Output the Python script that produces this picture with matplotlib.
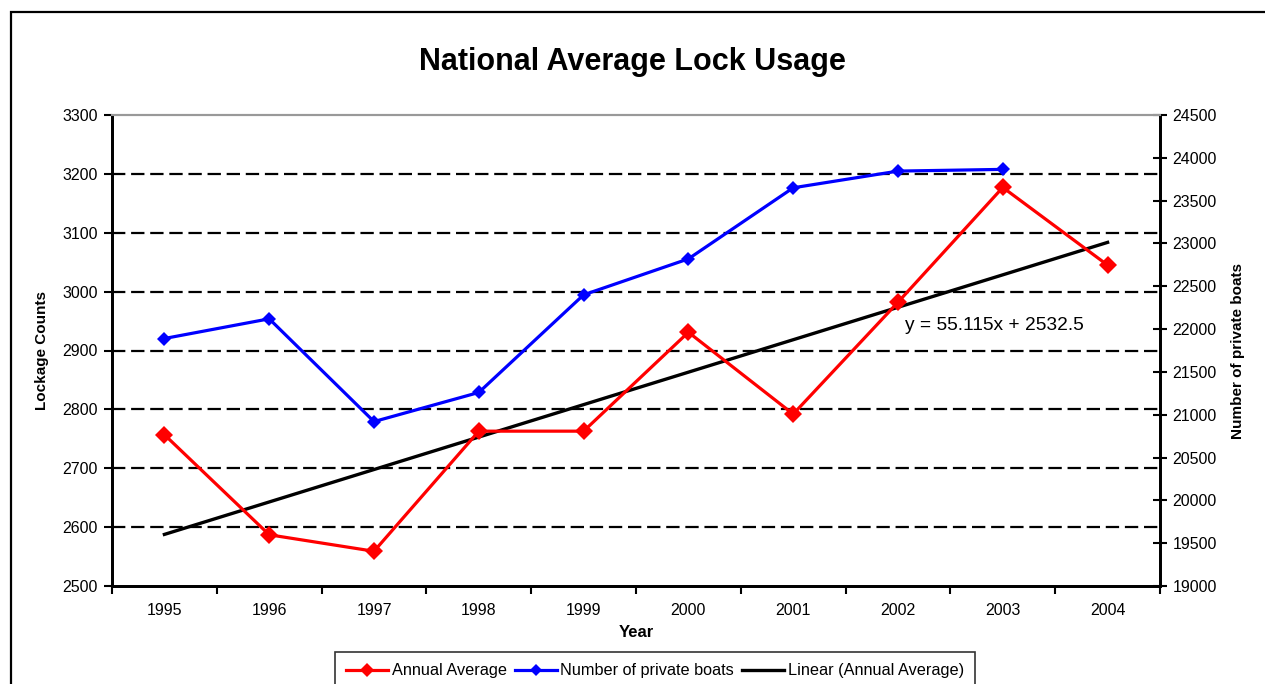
import matplotlib
matplotlib.use("Agg")
import matplotlib.pyplot as plt
from matplotlib.patches import Rectangle
from matplotlib.lines import Line2D
import numpy as np

plt.rcParams['font.family'] = ['Liberation Sans', 'DejaVu Sans']

# Data
years = ['1995', '1996', '1997', '1998', '1999', '2000', '2001', '2002', '2003', '2004']
annual_average = [2757, 2587, 2559, 2763, 2763, 2931, 2792, 2982, 3177, 3045]
private_boats = [21890, 22120, 20920, 21260, 22400, 22820, 23650, 23845, 23865]
trend_slope = 55.115
trend_intercept = 2532.5
left_ticks = [2500, 2600, 2700, 2800, 2900, 3000, 3100, 3200, 3300]
right_ticks = [19000, 19500, 20000, 20500, 21000, 21500, 22000, 22500, 23000, 23500, 24000, 24500]

W, H = 1265, 684
fig = plt.figure(figsize=(W / 100, H / 100), dpi=100)

ax = fig.add_axes([112 / W, 1 - 586 / H, (1160 - 112) / W, (586 - 115) / H])
ax2 = ax.twinx()

x = np.arange(len(years))

# Horizontal dashed grid on the primary axis
for v in left_ticks[1:-1]:
    ax.axhline(v, color='black', lw=1.6, ls=(0, (6, 2.6)), zorder=1)

# Trend line from the fitted equation
trend_x = x + 1
trend_y = trend_slope * trend_x + trend_intercept
ax.plot(x, trend_y, color='black', lw=2.4, zorder=3)

ax.plot(x, annual_average, color='#ff0000', lw=2.3, marker='D', markersize=9,
        markeredgewidth=0, zorder=4)
ax2.plot(x[:len(private_boats)], private_boats, color='#0000ff', lw=2.3, marker='D',
         markersize=7, markeredgewidth=0, zorder=4)

ax.set_xlim(-0.5, len(years) - 0.5)
ax.set_ylim(2500, 3300)
ax2.set_ylim(19000, 24500)

ax.set_yticks(left_ticks)
ax2.set_yticks(right_ticks)

# Category boundaries as major ticks, labels at centres
ax.set_xticks(np.arange(-0.5, len(years), 1.0))
ax.set_xticklabels([])
ax.set_xticks(x, minor=True)
ax.set_xticklabels(years, minor=True)
ax.tick_params(axis='x', which='major', direction='out', length=6, width=1.5)
ax.tick_params(axis='x', which='minor', length=0, pad=12, labelsize=11.5)
ax.tick_params(axis='y', direction='out', length=6, width=1.5, labelsize=11.5, pad=4)
ax2.tick_params(axis='y', direction='inout', length=10, width=1.5, labelsize=11.5, pad=4)

for a in (ax, ax2):
    a.spines['top'].set_color('#999999')
    a.spines['top'].set_linewidth(1.5)
    for s in ('left', 'right', 'bottom'):
        a.spines[s].set_linewidth(2)
        a.spines[s].set_color('black')

ax.set_ylabel('Lockage Counts', fontsize=11, fontweight='bold', labelpad=10)
ax2.set_ylabel('Number of private boats', fontsize=11, fontweight='bold', labelpad=10)
ax.set_xlabel('Year', fontsize=12, fontweight='bold', labelpad=5)

ax.text(7.07, 2943, 'y = 55.115x + 2532.5', fontsize=13.8, va='center', ha='left', zorder=5)

fig.text(0.5, 1 - 62 / H, 'National Average Lock Usage', fontsize=22, fontweight='bold',
         ha='center', va='center')

# Outer chart frame
fig.patches.append(Rectangle((11 / W, -0.2), 1.2, 1.2 - 12 / H, transform=fig.transFigure,
                             fill=False, edgecolor='black', lw=1.6, zorder=0))

handles = [
    Line2D([], [], color='#ff0000', lw=2.3, marker='D', markersize=7, markeredgewidth=0),
    Line2D([], [], color='#0000ff', lw=2.3, marker='D', markersize=6, markeredgewidth=0),
    Line2D([], [], color='black', lw=2.4),
]
labels = ['Annual Average', 'Number of private boats', 'Linear (Annual Average)']
leg = fig.legend(handles, labels, loc='upper center', bbox_to_anchor=(655 / W, 1 - 652 / H),
                 ncol=3, frameon=True, fancybox=False, fontsize=11.7, handlelength=2.6,
                 handletextpad=0.2, columnspacing=0.5, borderpad=0.7, borderaxespad=0)
leg.get_frame().set_edgecolor('black')
leg.get_frame().set_linewidth(1.2)

fig.savefig('out.png', dpi=100)
